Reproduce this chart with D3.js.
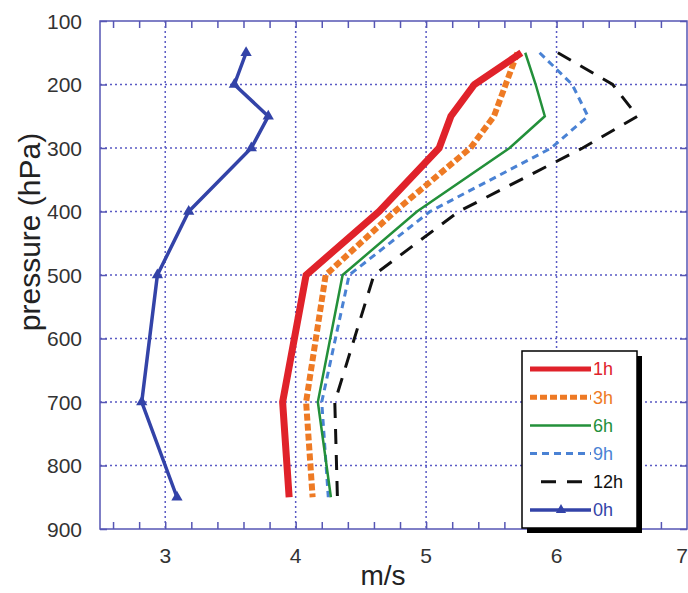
<!DOCTYPE html>
<html>
<head>
<meta charset="utf-8">
<script src="https://cdn.jsdelivr.net/npm/d3@7"></script>
<style>
  body { margin: 0; background: #fff; }
  text { font-family: "Liberation Sans", Arial, sans-serif; }
</style>
</head>
<body>
<script>
// pressure levels (hPa) and wind speed (m/s) per lead time
var pressure = [150, 200, 250, 300, 400, 500, 700, 850];
var h1  = [5.73, 5.37, 5.19, 5.10, 4.64, 4.08, 3.90, 3.95];
var h3  = [5.70, 5.61, 5.52, 5.34, 4.76, 4.23, 4.08, 4.13];
var h6  = [5.76, 5.84, 5.91, 5.64, 4.93, 4.36, 4.17, 4.27];
var h9  = [5.87, 6.12, 6.24, 5.96, 5.03, 4.41, 4.20, 4.25];
var h12 = [6.01, 6.43, 6.62, 6.20, 5.25, 4.60, 4.30, 4.32];
var h0  = [3.62, 3.53, 3.79, 3.66, 3.18, 2.94, 2.82, 3.09];

var seriesNames = ["1h", "3h", "6h", "9h", "12h", "0h"];
var xTicks = [3, 4, 5, 6, 7];
var yTicks = [100, 200, 300, 400, 500, 600, 700, 800, 900];

var width = 688, height = 593;
var pLeft = 100, pRight = 687, pTop = 21, pBottom = 529;
var frameColor = "#5656b4";

var x = d3.scaleLinear().domain([2.5, 7]).range([pLeft, pRight]);
var y = d3.scaleLinear().domain([100, 900]).range([pTop, pBottom]);

var svg = d3.select("body").append("svg")
    .attr("width", width)
    .attr("height", height);

// dotted grid
svg.append("g").selectAll("line")
    .data([3, 4, 5, 6])
    .enter().append("line")
    .attr("x1", function(d) { return x(d); })
    .attr("x2", function(d) { return x(d); })
    .attr("y1", pTop).attr("y2", pBottom)
    .attr("stroke", "#5a5ac4")
    .attr("stroke-width", 1.5)
    .attr("stroke-dasharray", "2,3");

svg.append("g").selectAll("line")
    .data(d3.range(200, 900, 100))
    .enter().append("line")
    .attr("y1", function(d) { return y(d); })
    .attr("y2", function(d) { return y(d); })
    .attr("x1", pLeft).attr("x2", pRight)
    .attr("stroke", "#5a5ac4")
    .attr("stroke-width", 1.5)
    .attr("stroke-dasharray", "2,3");

// frame
svg.append("rect")
    .attr("x", pLeft).attr("y", pTop)
    .attr("width", pRight - pLeft).attr("height", pBottom - pTop)
    .attr("fill", "none")
    .attr("stroke", frameColor)
    .attr("stroke-width", 1.5);

// inward ticks, bottom + top
var minor = d3.range(2.6, 7, 0.2);
var xBottom = d3.axisTop(x).tickValues(minor).tickSize(7).tickFormat("");
var xTop = d3.axisBottom(x).tickValues(minor).tickSize(7).tickFormat("");
var yLeft = d3.axisRight(y).tickValues(yTicks).tickSize(7).tickFormat("");
var yRight = d3.axisLeft(y).tickValues(yTicks).tickSize(7).tickFormat("");

[[xBottom, "translate(0," + pBottom + ")"],
 [xTop, "translate(0," + pTop + ")"],
 [yLeft, "translate(" + pLeft + ",0)"],
 [yRight, "translate(" + pRight + ",0)"]].forEach(function(a) {
    var g = svg.append("g").attr("transform", a[1]).call(a[0]);
    g.select(".domain").remove();
    g.selectAll("line").attr("stroke", frameColor).attr("stroke-width", 1.5);
});

// tick labels
svg.append("g").selectAll("text")
    .data(xTicks)
    .enter().append("text")
    .attr("x", function(d) { return d == 7 ? width : x(d); })
    .attr("y", 563)
    .attr("text-anchor", function(d) { return d == 7 ? "end" : "middle"; })
    .attr("font-size", 21)
    .attr("fill", "#333")
    .text(function(d) { return d; });

svg.append("g").selectAll("text")
    .data(yTicks)
    .enter().append("text")
    .attr("x", 82)
    .attr("y", function(d) { return y(d); })
    .attr("dy", "0.36em")
    .attr("text-anchor", "end")
    .attr("font-size", 21)
    .attr("fill", "#333")
    .text(function(d) { return d; });

svg.append("text")
    .attr("x", 383).attr("y", 585)
    .attr("text-anchor", "middle")
    .attr("font-size", 28)
    .attr("fill", "#222")
    .text("m/s");

svg.append("text")
    .attr("transform", "translate(40,232) rotate(-90)")
    .attr("text-anchor", "middle")
    .attr("font-size", 30)
    .attr("fill", "#222")
    .text("pressure (hPa)");

// series
var styles = {
    "1h":  {values: h1,  color: "#e0222a", width: 7,   dash: null},
    "3h":  {values: h3,  color: "#ee7a24", width: 6,   dash: "7,3"},
    "6h":  {values: h6,  color: "#23903a", width: 2.5, dash: null},
    "9h":  {values: h9,  color: "#4a82d4", width: 3,   dash: "7,5"},
    "12h": {values: h12, color: "#111111", width: 3,   dash: "15,11"},
    "0h":  {values: h0,  color: "#3343a8", width: 3.5, dash: null}
};

var line = d3.line()
    .x(function(d) { return x(d[0]); })
    .y(function(d) { return y(d[1]); });

["12h", "9h", "6h", "3h", "1h", "0h"].forEach(function(name) {
    var s = styles[name];
    var pts = s.values.map(function(v, i) { return [v, pressure[i]]; });
    svg.append("path")
        .datum(pts)
        .attr("d", line)
        .attr("fill", "none")
        .attr("stroke", s.color)
        .attr("stroke-width", s.width)
        .attr("stroke-dasharray", s.dash)
        .attr("stroke-linejoin", "miter");
    if (name == "0h") {
        svg.append("g").selectAll("path")
            .data(pts)
            .enter().append("path")
            .attr("transform", function(d) { return "translate(" + x(d[0]) + "," + y(d[1]) + ")"; })
            .attr("d", d3.symbol().type(d3.symbolTriangle).size(55))
            .attr("fill", s.color);
    }
});

// legend
var lg = svg.append("g");
lg.append("rect")
    .attr("x", 527).attr("y", 356).attr("width", 115).attr("height", 177)
    .attr("fill", "#000");
lg.append("rect")
    .attr("x", 522).attr("y", 351).attr("width", 115).attr("height", 177)
    .attr("fill", "#fff")
    .attr("stroke", "#000")
    .attr("stroke-width", 1.5);

seriesNames.forEach(function(name, i) {
    var s = styles[name];
    var ly = 369 + i * 28.2;
    lg.append("line")
        .attr("x1", 530).attr("x2", 591)
        .attr("y1", ly).attr("y2", ly)
        .attr("stroke", s.color)
        .attr("stroke-width", Math.min(s.width, 5))
        .attr("stroke-dasharray", s.dash)
        .attr("stroke-dashoffset", name == "12h" ? 15 : 0);
    if (name == "0h") {
        lg.append("path")
            .attr("transform", "translate(561," + ly + ")")
            .attr("d", d3.symbol().type(d3.symbolTriangle).size(45))
            .attr("fill", s.color);
    }
    lg.append("text")
        .attr("x", 593).attr("y", ly)
        .attr("dy", "0.36em")
        .attr("font-size", 18)
        .attr("fill", s.color)
        .text(name);
});
</script>
</body>
</html>
